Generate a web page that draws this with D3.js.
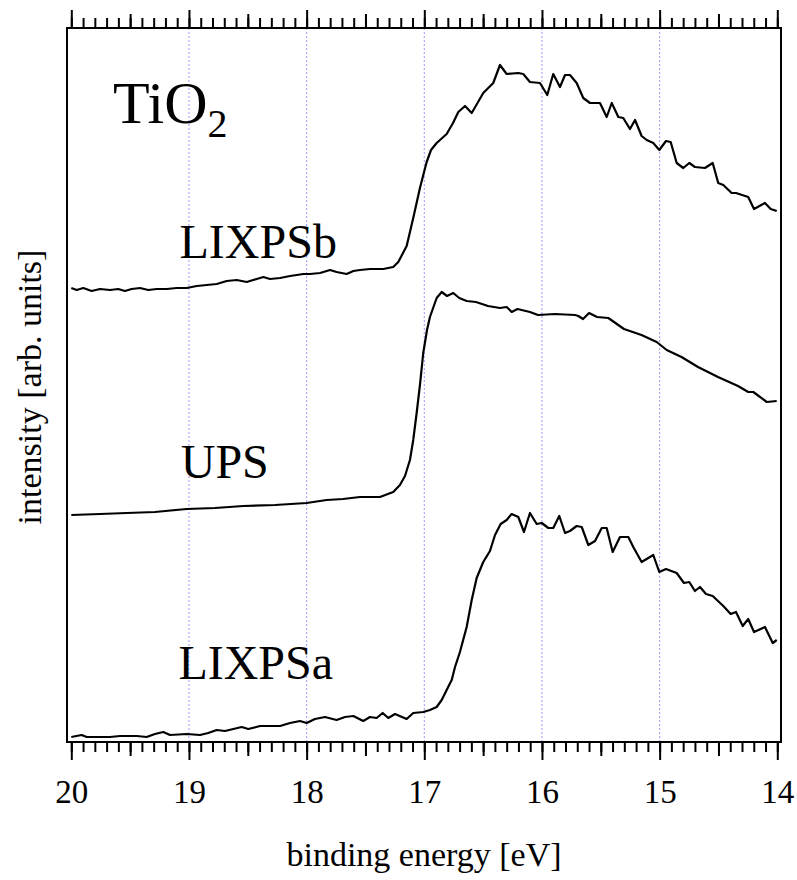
<!DOCTYPE html>
<html>
<head>
<meta charset="utf-8">
<script src="https://cdn.jsdelivr.net/npm/d3@7"></script>
<style>
  body { margin: 0; background: #fff; }
  text { font-family: 'Liberation Serif', 'Times New Roman', serif; fill: #000; }
</style>
</head>
<body>
<div id="chart"></div>
<script>
// binding energy [eV], intensity [arb. units] (curves already offset)
const lixpsb = [
  [20.0, 454], [19.954, 452], [19.898, 454], [19.827, 451], [19.756, 453], [19.671, 452],
  [19.601, 453], [19.544, 451], [19.487, 453], [19.416, 454], [19.346, 452], [19.274, 453],
  [19.189, 453], [19.104, 454], [19.019, 454], [18.934, 456], [18.849, 457], [18.764, 458],
  [18.679, 461], [18.594, 462], [18.509, 460], [18.424, 463], [18.368, 465], [18.311, 463],
  [18.226, 464], [18.141, 466], [18.084, 467], [18.028, 468], [17.971, 468], [17.886, 469],
  [17.801, 472], [17.745, 470], [17.66, 468], [17.603, 471], [17.547, 472], [17.462, 473],
  [17.349, 473], [17.264, 475], [17.221, 480], [17.15, 496], [17.094, 524], [17.037, 554],
  [16.98, 580], [16.943, 592], [16.895, 599], [16.81, 608], [16.756, 619], [16.711, 630],
  [16.654, 636], [16.597, 629], [16.499, 649], [16.414, 659], [16.357, 677], [16.3, 668],
  [16.201, 669], [16.159, 668], [16.102, 660], [16.017, 659], [15.955, 647], [15.904, 668],
  [15.847, 655], [15.804, 667], [15.762, 667], [15.705, 659], [15.649, 644], [15.592, 639],
  [15.507, 639], [15.45, 625], [15.407, 639], [15.351, 625], [15.309, 624], [15.252, 613],
  [15.209, 622], [15.153, 606], [15.11, 602], [15.054, 599], [15.003, 592], [14.946, 601],
  [14.906, 600], [14.855, 579], [14.799, 574], [14.748, 579], [14.7, 575], [14.615, 574],
  [14.549, 579], [14.502, 559], [14.459, 557], [14.388, 549], [14.351, 549], [14.247, 545],
  [14.198, 533], [14.105, 539], [14.056, 533], [14.005, 531]
];

const ups = [
  [20.0, 227], [19.756, 228], [19.529, 229], [19.289, 230], [19.019, 233], [18.779, 234],
  [18.538, 236], [18.269, 237], [18.0, 239], [17.83, 242], [17.691, 243], [17.547, 245],
  [17.377, 245], [17.264, 250], [17.207, 257], [17.164, 266], [17.122, 282], [17.094, 302],
  [17.065, 329], [17.037, 357], [17.009, 389], [16.977, 412], [16.952, 425], [16.895, 444],
  [16.852, 450], [16.807, 446], [16.754, 449], [16.703, 444], [16.64, 441], [16.561, 440],
  [16.459, 436], [16.357, 434], [16.3, 435], [16.257, 430], [16.208, 433], [16.102, 430],
  [16.034, 427], [15.889, 428], [15.719, 427], [15.691, 426], [15.651, 423], [15.6, 429],
  [15.532, 425], [15.436, 424], [15.303, 413], [15.154, 407], [15.025, 400], [14.94, 392],
  [14.814, 385], [14.674, 375], [14.504, 365], [14.334, 356], [14.247, 350], [14.204, 350],
  [14.09, 340], [14.005, 341]
];

const lixpsa = [
  [20.0, 5], [19.912, 7], [19.869, 5], [19.671, 5], [19.586, 6], [19.444, 6], [19.359, 5],
  [19.289, 8], [19.218, 10], [19.161, 7], [19.019, 8], [18.906, 7], [18.836, 9], [18.764, 12],
  [18.694, 11], [18.623, 13], [18.552, 15], [18.496, 13], [18.396, 16], [18.311, 16],
  [18.226, 16], [18.141, 19], [18.056, 21], [18.0, 19], [17.929, 23], [17.844, 25],
  [17.745, 22], [17.674, 25], [17.603, 26], [17.519, 21], [17.462, 25], [17.405, 24],
  [17.354, 29], [17.306, 24], [17.249, 28], [17.15, 23], [17.094, 29], [17.009, 30],
  [16.952, 32], [16.895, 35], [16.852, 42], [16.81, 52], [16.767, 62], [16.739, 75],
  [16.697, 90], [16.64, 115], [16.597, 142], [16.555, 164], [16.499, 180], [16.442, 191],
  [16.399, 207], [16.351, 218], [16.3, 222], [16.258, 228], [16.201, 225], [16.153, 210],
  [16.102, 229], [16.045, 218], [16.002, 219], [15.946, 214], [15.904, 214], [15.853, 226],
  [15.804, 209], [15.762, 211], [15.705, 216], [15.662, 215], [15.606, 197], [15.549, 201],
  [15.492, 214], [15.45, 214], [15.399, 190], [15.337, 205], [15.266, 205], [15.224, 195],
  [15.153, 180], [15.054, 187], [15.003, 170], [14.946, 173], [14.855, 169], [14.793, 159],
  [14.748, 160], [14.7, 151], [14.657, 155], [14.606, 148], [14.549, 146], [14.459, 136],
  [14.396, 128], [14.351, 130], [14.294, 116], [14.247, 123], [14.198, 110], [14.105, 115],
  [14.039, 99], [14.005, 102]
];

const series = [
  { name: 'LIXPSb', values: lixpsb, labelE: 19.08, labelI: 484 },
  { name: 'UPS', values: ups, labelE: 19.07, labelI: 264 },
  { name: 'LIXPSa', values: lixpsa, labelE: 19.09, labelI: 63 }
];

const majorTicks = [20, 19, 18, 17, 16, 15, 14];
const gridTicks = [19, 18, 17, 16, 15];
const halfTicks = d3.range(14.5, 20, 1);
const minorTicks = d3.range(140, 201).map((d) => d / 10);

const xAccessor = (d) => d[0];
const yAccessor = (d) => d[1];

function draw() {
  const dimensions = {
    width: 797,
    height: 880,
    frame: { left: 67, top: 28, right: 781, bottom: 742 },
  };

  const svg = d3
    .select('#chart')
    .append('svg')
    .attr('width', dimensions.width)
    .attr('height', dimensions.height);

  // scales
  const xScale = d3.scaleLinear().domain([20, 14]).range([71.3, 777.3]);
  const yScale = d3
    .scaleLinear()
    .domain([0, 714])
    .range([dimensions.frame.bottom, dimensions.frame.top]);

  // dotted grid
  svg
    .append('g')
    .selectAll('line')
    .data(gridTicks)
    .join('line')
    .attr('x1', (d) => xScale(d))
    .attr('x2', (d) => xScale(d))
    .attr('y1', dimensions.frame.top)
    .attr('y2', dimensions.frame.bottom)
    .attr('stroke', '#9a9aff')
    .attr('stroke-width', 1)
    .attr('stroke-dasharray', '2,2');

  // axes: minor, half and major ticks, bottom and top
  const addAxes = (axisFn, y, dir) => {
    const sets = [
      { ticks: minorTicks, size: 10 },
      { ticks: halfTicks, size: 14 },
      { ticks: majorTicks, size: 18 },
    ];
    sets.forEach((s, i) => {
      const axis = axisFn(xScale).tickValues(s.ticks).tickSize(s.size).tickSizeOuter(0);
      if (i < 2 || dir === 'top') axis.tickFormat('');
      else axis.tickPadding(20).tickFormat(d3.format('d'));
      const g = svg
        .append('g')
        .attr('transform', `translate(0, ${y})`)
        .call(axis);
      g.select('.domain').remove();
      g.selectAll('.tick line').attr('stroke', '#000').attr('stroke-width', 2);
      g.selectAll('.tick text')
        .style('font-family', "'Liberation Serif', serif")
        .style('font-size', '33px')
        .attr('fill', '#000');
    });
  };
  addAxes(d3.axisBottom, dimensions.frame.bottom, 'bottom');
  addAxes(d3.axisTop, dimensions.frame.top, 'top');

  // frame
  svg
    .append('rect')
    .attr('x', dimensions.frame.left)
    .attr('y', dimensions.frame.top)
    .attr('width', dimensions.frame.right - dimensions.frame.left)
    .attr('height', dimensions.frame.bottom - dimensions.frame.top)
    .attr('fill', 'none')
    .attr('stroke', '#000')
    .attr('stroke-width', 2);

  // curves
  const line = d3
    .line()
    .x((d) => xScale(xAccessor(d)))
    .y((d) => yScale(yAccessor(d)));

  svg
    .append('g')
    .selectAll('path')
    .data(series)
    .join('path')
    .attr('d', (d) => line(d.values))
    .attr('fill', 'none')
    .attr('stroke', '#000')
    .attr('stroke-width', 2.2)
    .attr('stroke-linejoin', 'round');

  // curve labels
  svg
    .append('g')
    .selectAll('text')
    .data(series)
    .join('text')
    .attr('x', (d) => xScale(d.labelE))
    .attr('y', (d) => yScale(d.labelI))
    .style('font-size', '48px')
    .text((d) => d.name);

  // sample name
  const title = svg
    .append('text')
    .attr('x', 113)
    .attr('y', 123)
    .style('font-size', '60px');
  title.append('tspan').text('TiO');
  title.append('tspan').attr('dy', 14).style('font-size', '40px').text('2');

  // axis titles
  svg
    .append('text')
    .attr('x', 424)
    .attr('y', 866)
    .attr('text-anchor', 'middle')
    .style('font-size', '34px')
    .text('binding energy [eV]');

  svg
    .append('text')
    .attr('transform', 'translate(41, 387) rotate(-90)')
    .attr('text-anchor', 'middle')
    .style('font-size', '34px')
    .text('intensity [arb. units]');
}
draw();
</script>
</body>
</html>
